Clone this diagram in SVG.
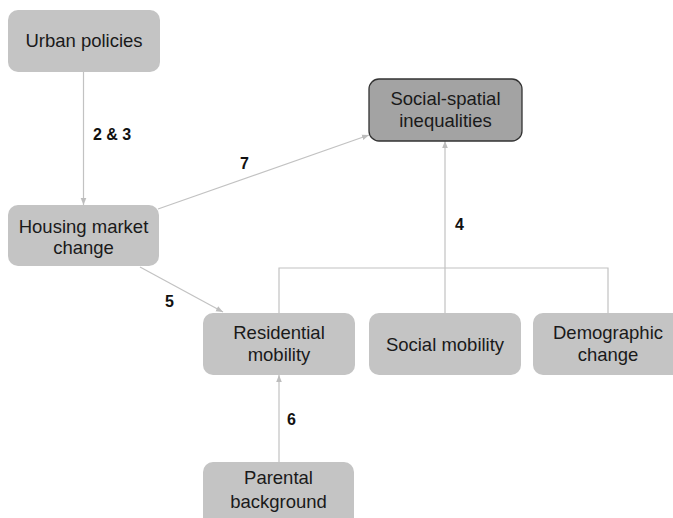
<svg xmlns="http://www.w3.org/2000/svg" width="673" height="518" viewBox="0 0 673 518">
<defs>
<marker id="ah" viewBox="0 0 10 10" refX="10" refY="5" markerWidth="7" markerHeight="7" markerUnits="userSpaceOnUse" orient="auto">
<path d="M0,1 L10,5 L0,9 z" fill="#bdbdbd"/>
</marker>
<style>
.box{fill:#c4c4c4;stroke:none}
.dark{fill:#a3a3a3;stroke:#333;stroke-width:1.3}
.t{font-family:"Liberation Sans",Arial,sans-serif;font-size:18.5px;fill:#1a1a1a;text-anchor:middle}
.lbl{font-family:"Liberation Sans",Arial,sans-serif;font-size:16px;font-weight:bold;fill:#111}
.c{fill:none;stroke:#c2c2c2;stroke-width:1.2}
</style>
</defs>
<rect width="673" height="518" fill="#fff"/>
<g id="connectors">
<line class="c" x1="83.5" y1="72" x2="83.5" y2="205" marker-end="url(#ah)"/>
<line class="c" x1="158" y1="209" x2="369" y2="135" marker-end="url(#ah)"/>
<line class="c" x1="140" y1="267" x2="223" y2="312" marker-end="url(#ah)"/>
<polyline class="c" points="279,313 279,268 608,268 608,313"/>
<line class="c" x1="445" y1="313" x2="445" y2="141" marker-end="url(#ah)"/>
<line class="c" x1="279" y1="462" x2="279" y2="375" marker-end="url(#ah)"/>
<text class="lbl" x="93" y="140">2 &amp; 3</text>
<text class="lbl" x="240" y="169">7</text>
<text class="lbl" x="165" y="307">5</text>
<text class="lbl" x="455" y="230">4</text>
<text class="lbl" x="287" y="425">6</text>
</g>
<g id="urban-policies">
<rect class="box" x="8" y="10" width="152" height="62" rx="10"/>
<text class="t" x="84" y="47">Urban policies</text>
</g>
<g id="housing-market-change">
<rect class="box" x="8" y="205" width="151" height="61" rx="10"/>
<text class="t" x="83.5" y="233">Housing market</text>
<text class="t" x="83.5" y="254">change</text>
</g>
<g id="social-spatial-inequalities">
<rect class="dark" x="369" y="79" width="153" height="62" rx="10"/>
<text class="t" x="445.5" y="105">Social-spatial</text>
<text class="t" x="445.5" y="127">inequalities</text>
</g>
<g id="residential-mobility">
<rect class="box" x="203" y="313" width="152" height="62" rx="10"/>
<text class="t" x="279" y="339">Residential</text>
<text class="t" x="279" y="361">mobility</text>
</g>
<g id="social-mobility">
<rect class="box" x="369" y="313" width="152" height="62" rx="10"/>
<text class="t" x="445" y="351">Social mobility</text>
</g>
<g id="demographic-change">
<rect class="box" x="533" y="313" width="152" height="62" rx="10"/>
<text class="t" x="608" y="339">Demographic</text>
<text class="t" x="608" y="361">change</text>
</g>
<g id="parental-background">
<rect class="box" x="203" y="462" width="151" height="70" rx="10"/>
<text class="t" x="278.5" y="484">Parental</text>
<text class="t" x="278.5" y="508">background</text>
</g>
</svg>
